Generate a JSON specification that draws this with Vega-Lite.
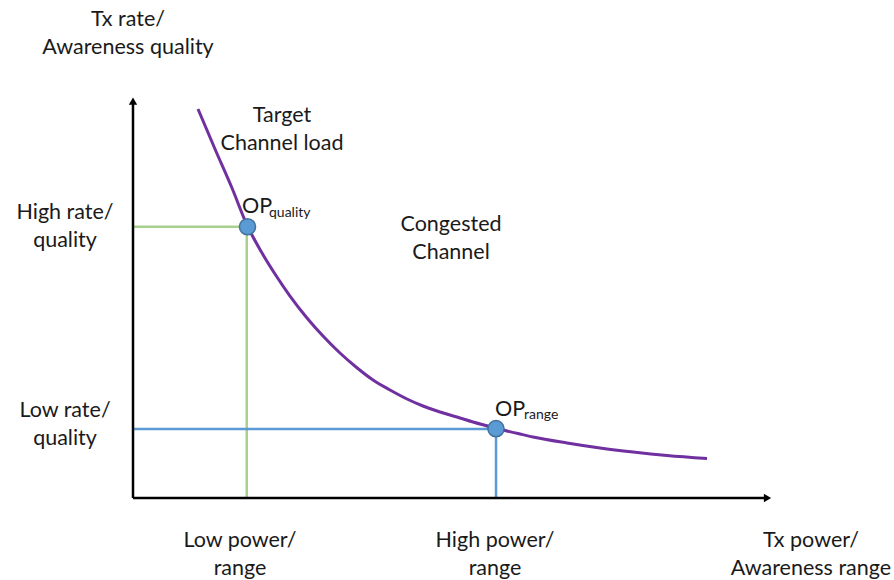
{
  "$schema": "https://vega.github.io/schema/vega-lite/v6.json",
  "width": 894,
  "height": 580,
  "padding": 0,
  "autosize": {"type": "none"},
  "background": "white",
  "config": {"view": {"stroke": null}},
  "datasets": {
    "curve": [
      {"x": 1.017, "y": 9.653},
      {"x": 1.283, "y": 8.660},
      {"x": 1.549, "y": 7.692},
      {"x": 1.784, "y": 6.774},
      {"x": 2.019, "y": 6.079},
      {"x": 2.222, "y": 5.558},
      {"x": 2.457, "y": 5.012},
      {"x": 2.723, "y": 4.467},
      {"x": 2.973, "y": 4.020},
      {"x": 3.239, "y": 3.598},
      {"x": 3.490, "y": 3.251},
      {"x": 3.756, "y": 2.928},
      {"x": 4.022, "y": 2.680},
      {"x": 4.288, "y": 2.457},
      {"x": 4.538, "y": 2.283},
      {"x": 4.804, "y": 2.134},
      {"x": 5.070, "y": 2.010},
      {"x": 5.321, "y": 1.886},
      {"x": 5.665, "y": 1.737},
      {"x": 6.056, "y": 1.588},
      {"x": 6.260, "y": 1.514},
      {"x": 6.792, "y": 1.365},
      {"x": 7.308, "y": 1.241},
      {"x": 7.825, "y": 1.141},
      {"x": 8.357, "y": 1.055},
      {"x": 8.983, "y": 0.980}
    ],
    "guides": [
      {"x": 0, "y": 6.73, "x2": 1.78, "y2": 6.73, "kind": "quality"},
      {"x": 1.78, "y": 0, "x2": 1.78, "y2": 6.73, "kind": "quality"},
      {"x": 0, "y": 1.712, "x2": 5.681, "y2": 1.712, "kind": "range"},
      {"x": 5.681, "y": 0, "x2": 5.681, "y2": 1.712, "kind": "range"},
      {"x": 0, "y": 0, "x2": 0, "y2": 9.85, "kind": "axis"},
      {"x": 0, "y": 0, "x2": 9.9, "y2": 0, "kind": "axis"}
    ],
    "arrows": [
      {"x": 0, "y": 9.85, "dir": "up"},
      {"x": 9.93, "y": 0, "dir": "right"}
    ],
    "ops": [
      {"x": 1.792, "y": 6.73},
      {"x": 5.681, "y": 1.72}
    ],
    "labels": [
      {"x": -0.078, "y": 11.861, "text": "Tx rate/\nAwareness quality"},
      {"x": -1.064, "y": 7.072, "text": "High rate/\nquality"},
      {"x": -1.064, "y": 2.159, "text": "Low rate/\nquality"},
      {"x": 1.674, "y": -1.067, "text": "Low power/\nrange"},
      {"x": 5.665, "y": -1.067, "text": "High power/\nrange"},
      {"x": 10.61, "y": -1.067, "text": "Tx power/\nAwareness range"},
      {"x": 2.332, "y": 9.479, "text": "Target\nChannel load"},
      {"x": 4.977, "y": 6.774, "text": "Congested\nChannel"}
    ],
    "opmain": [
      {"x": 1.706, "y": 7.221, "text": "OP"},
      {"x": 5.665, "y": 2.184, "text": "OP"}
    ],
    "opsub": [
      {"x": 2.128, "y": 7.072, "text": "quality"},
      {"x": 6.119, "y": 2.06, "text": "range"}
    ]
  },
  "encoding": {
    "x": {"field": "x", "type": "quantitative", "axis": null, "scale": {"domain": [-2.0814, 11.9092], "nice": false, "zero": false}},
    "y": {"field": "y", "type": "quantitative", "axis": null, "scale": {"domain": [-2.0347, 12.3573], "nice": false, "zero": false}}
  },
  "layer": [
    {
      "data": {"name": "guides"},
      "mark": {"type": "rule"},
      "encoding": {
        "x2": {"field": "x2"},
        "y2": {"field": "y2"},
        "color": {"field": "kind", "type": "nominal", "legend": null, "scale": {"domain": ["quality", "range", "axis"], "range": ["#A9D18E", "#5B9BD5", "#000000"]}},
        "strokeWidth": {"field": "kind", "type": "nominal", "legend": null, "scale": {"domain": ["quality", "range", "axis"], "range": [2.5, 2.5, 3]}}
      }
    },
    {
      "data": {"name": "arrows"},
      "mark": {"type": "point", "filled": true, "color": "#000000", "size": 70, "opacity": 1},
      "encoding": {
        "shape": {"field": "dir", "type": "nominal", "legend": null, "scale": {"domain": ["up", "right"], "range": ["triangle-up", "triangle-right"]}}
      }
    },
    {
      "data": {"name": "curve"},
      "mark": {"type": "line", "color": "#7030A0", "strokeWidth": 3, "interpolate": "monotone"},
      "encoding": {}
    },
    {
      "data": {"name": "ops"},
      "mark": {"type": "point", "filled": true, "fill": "#5B9BD5", "stroke": "#41719C", "strokeWidth": 1.5, "size": 260, "opacity": 1, "shape": "circle"},
      "encoding": {}
    },
    {
      "data": {"name": "labels"},
      "mark": {"type": "text", "font": "Lato", "fontSize": 21.5, "color": "#1a1a1a", "align": "center", "baseline": "middle", "lineBreak": "\n", "lineHeight": 28},
      "encoding": {"text": {"field": "text"}}
    },
    {
      "data": {"name": "opmain"},
      "mark": {"type": "text", "font": "Lato", "fontSize": 21.5, "color": "#1a1a1a", "align": "left", "baseline": "middle"},
      "encoding": {"text": {"field": "text"}}
    },
    {
      "data": {"name": "opsub"},
      "mark": {"type": "text", "font": "Lato", "fontSize": 14, "color": "#1a1a1a", "align": "left", "baseline": "middle"},
      "encoding": {"text": {"field": "text"}}
    }
  ]
}
